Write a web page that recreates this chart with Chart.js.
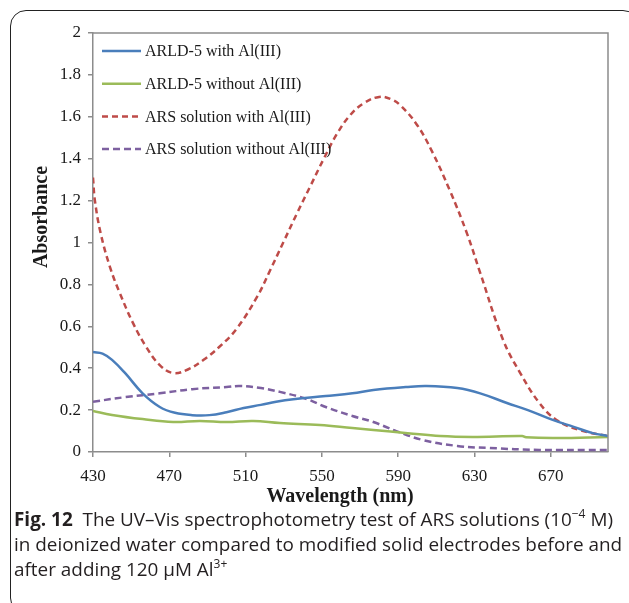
<!DOCTYPE html>
<html>
<head>
<meta charset="utf-8">
<script src="https://cdn.jsdelivr.net/npm/chart.js@4/dist/chart.umd.min.js"></script>
<style>
  html, body { margin: 0; padding: 0; background: #fff; }
  body { width: 629px; height: 603px; position: relative; overflow: hidden; }
  #frame { position: absolute; left: 10px; top: 10px; width: 629px; height: 604px; box-sizing: border-box;
           border: 1.5px solid #222; border-radius: 16px; }
  #wrap { position: absolute; left: 0; top: 0; width: 629px; height: 510px; }
  #cap { position: absolute; left: 14px; top: 507px; font-family: "Open Sans", "Noto Sans", sans-serif;
         font-size: 18.9px; line-height: 25px; color: #231f20; white-space: nowrap; }
  #cap sup { font-size: 12px; line-height: 0; vertical-align: 8px; }
</style>
</head>
<body>
<div id="frame"></div>
<div id="wrap"><canvas id="c" width="629" height="510"></canvas></div>
<div id="cap"><b>Fig. 12</b>&nbsp; The UV–Vis spectrophotometry test of ARS solutions (10<sup>−4</sup> M)<br>in deionized water compared to modified solid electrodes before and<br>after adding 120 μM Al<sup>3+</sup></div>
<script>
// ---- data ----
const seriesLabels = [
  "ARLD-5 with Al(III)",
  "ARLD-5 without Al(III)",
  "ARS solution with Al(III)",
  "ARS solution without Al(III)"
];
const xTickValues = [430, 470, 510, 550, 590, 630, 670];
const yTickStep = 0.2;

const arldWithNm  = [430, 435, 440, 447, 456, 465, 473, 482, 491, 500, 509, 518, 526, 535, 552, 566, 577, 594, 605, 621, 633, 647, 658, 671, 682, 692, 700];
const arldWithAbs = [0.477, 0.47, 0.44, 0.375, 0.28, 0.215, 0.187, 0.176, 0.176, 0.19, 0.21, 0.225, 0.24, 0.252, 0.267, 0.28, 0.296, 0.31, 0.315, 0.305, 0.28, 0.234, 0.2, 0.153, 0.12, 0.09, 0.076];

const arldWithoutNm  = [430, 440, 456, 472, 486, 500, 514, 528, 549, 566, 577, 595, 612, 629, 655, 657, 673, 700];
const arldWithoutAbs = [0.196, 0.177, 0.157, 0.143, 0.148, 0.143, 0.148, 0.138, 0.129, 0.114, 0.105, 0.09, 0.076, 0.072, 0.076, 0.07, 0.067, 0.072];

const arsWithNm  = [430, 431, 434, 439, 444, 451, 458, 465, 472, 480, 488, 496, 505, 516, 523, 530, 537, 544, 551, 558, 565, 572, 580, 586, 591, 600, 608, 617, 626, 633, 645, 654, 664, 673, 685, 700];
const arsWithAbs = [1.31, 1.2, 1.045, 0.88, 0.76, 0.615, 0.50, 0.415, 0.377, 0.395, 0.44, 0.50, 0.585, 0.74, 0.87, 1.005, 1.14, 1.27, 1.40, 1.52, 1.61, 1.665, 1.695, 1.685, 1.656, 1.56, 1.43, 1.25, 1.045, 0.855, 0.535, 0.377, 0.234, 0.153, 0.105, 0.076];

const arsWithoutNm  = [430, 447, 465, 482, 500, 507, 518, 528, 542, 552, 566, 577, 589, 603, 621, 638, 664, 700];
const arsWithoutAbs = [0.24, 0.262, 0.28, 0.30, 0.31, 0.315, 0.305, 0.287, 0.253, 0.215, 0.172, 0.143, 0.1, 0.057, 0.029, 0.019, 0.01, 0.01];

const pts = (xs, ys) => xs.map((x, i) => ({ x: x, y: ys[i] }));

const AXIS = '#8c8c8c';
const TXT = '#1a1a1a';
const SERIF = '"Liberation Serif", "Times New Roman", serif';

const overlay = {
  id: 'overlay',
  afterDraw(chart) {
    const { ctx, chartArea: a } = chart;
    ctx.save();
    // top & right plot border
    ctx.strokeStyle = AXIS; ctx.lineWidth = 1.5;
    ctx.beginPath(); ctx.moveTo(a.left, a.top); ctx.lineTo(a.right, a.top); ctx.lineTo(a.right, a.bottom); ctx.stroke();
    // legend inside plot
    chart.data.datasets.forEach((ds, i) => {
      const y = a.top + 18 + i * 32.7;
      ctx.strokeStyle = ds.borderColor; ctx.lineWidth = ds.borderWidth;
      ctx.setLineDash(ds.borderDash || []);
      ctx.beginPath(); ctx.moveTo(a.left + 9, y); ctx.lineTo(a.left + 48, y); ctx.stroke();
      ctx.setLineDash([]);
      ctx.fillStyle = TXT; ctx.font = '16px ' + SERIF; ctx.textBaseline = 'middle'; ctx.textAlign = 'left';
      ctx.fillText(ds.label, a.left + 52, y + 1);
    });
    // axis titles
    ctx.fillStyle = TXT; ctx.font = 'bold 20px ' + SERIF; ctx.textAlign = 'center'; ctx.textBaseline = 'middle';
    ctx.fillText('Wavelength (nm)', 340, 497);
    ctx.translate(42, 217); ctx.rotate(-Math.PI / 2);
    ctx.fillText('Absorbance', 0, 0);
    ctx.restore();
  }
};

const mk = (label, xs, ys, color, dash) => ({
  label, data: pts(xs, ys), borderColor: color, backgroundColor: color,
  borderWidth: 2.5, borderDash: dash, pointRadius: 0, fill: false,
  tension: 0.4
});

new Chart(document.getElementById('c'), {
  type: 'line',
  data: {
    datasets: [
      mk(seriesLabels[0], arldWithNm, arldWithAbs, '#4A7EBB', []),
      mk(seriesLabels[1], arldWithoutNm, arldWithoutAbs, '#9BBB59', []),
      mk(seriesLabels[2], arsWithNm, arsWithAbs, '#BE4B48', [6, 4]),
      mk(seriesLabels[3], arsWithoutNm, arsWithoutAbs, '#7D60A0', [7, 4])
    ]
  },
  options: {
    responsive: false, animation: false, devicePixelRatio: 1,
    layout: { padding: { top: 33, right: 21, left: 0, bottom: 0 } },
    plugins: { legend: { display: false }, tooltip: { enabled: false } },
    scales: {
      x: {
        type: 'linear', min: 430, max: 700,
        afterBuildTicks: s => { s.ticks = xTickValues.map(v => ({ value: v })); },
        afterFit: s => { s.height = 58; },
        grid: { display: true, drawOnChartArea: false, drawTicks: true, tickLength: 5, color: AXIS, lineWidth: 1.5 },
        border: { color: AXIS, width: 1.5 },
        ticks: { font: { family: SERIF, size: 17 }, color: TXT, padding: 9, maxRotation: 0, autoSkip: false }
      },
      y: {
        min: 0, max: 2,
        afterFit: s => { s.width = 93; },
        grid: { display: true, drawOnChartArea: false, drawTicks: true, tickLength: 5, color: AXIS, lineWidth: 1.5 },
        border: { color: AXIS, width: 1.5 },
        ticks: { stepSize: yTickStep, font: { family: SERIF, size: 17 }, color: TXT, padding: 7,
                 callback: v => String(Number(Number(v).toFixed(2))) }
      }
    }
  },
  plugins: [overlay]
});
</script>
</body>
</html>
